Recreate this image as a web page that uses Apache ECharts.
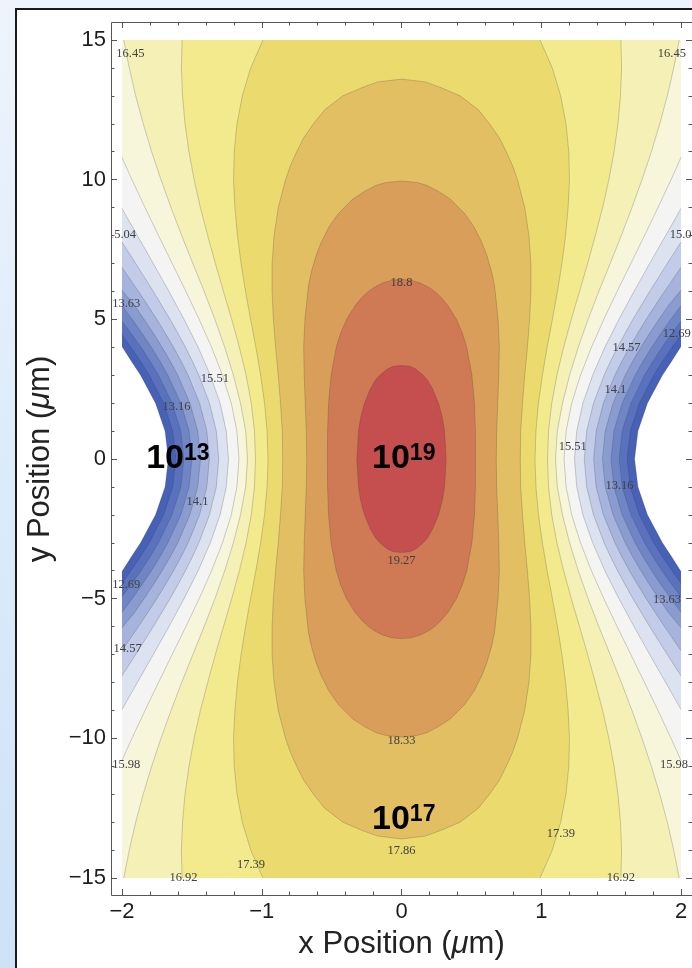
<!DOCTYPE html>
<html><head><meta charset="utf-8">
<script src="https://cdn.jsdelivr.net/npm/echarts@6/dist/echarts.min.js"></script>
<style>
html,body{margin:0;padding:0;width:692px;height:968px;overflow:hidden;}
body{background:linear-gradient(to bottom,#edf4fc 0%,#dcebf9 50%,#cde2f6 100%);}
#panel{position:absolute;left:15px;top:8px;width:720px;height:1000px;background:#fff;border:2px solid #1a1a1a;box-sizing:border-box;}
#chart{position:absolute;left:0;top:0;width:692px;height:968px;}
</style></head><body><div id="panel"></div><div id="chart"></div>
<script>
// ---- data ----
const xTicks = [-2, -1, 0, 1, 2];
const xTickLabels = ['\u22122', '\u22121', '0', '1', '2'];
const yTicks = [-15, -10, -5, 0, 5, 10, 15];
const yTickLabels = ['\u221215', '\u221210', '\u22125', '0', '5', '10', '15'];

// contour levels (log10 density) and the fill colour of the band above each level
const levels = [12.22, 12.69, 13.16, 13.63, 14.10, 14.57, 15.04, 15.51, 15.98, 16.45, 16.92, 17.39, 17.86, 18.33, 18.80, 19.27];
const bandColors = ['#4661b5', '#5a72bd', '#7085c6', '#8a9bd0', '#a6b3dc', '#c2cbe7', '#dde2f1', '#f4f4f3',
                    '#f7f5da', '#f5f0b6', '#f2ea8c', '#ebdb6f', '#e2bf62', '#d99f5a', '#d07a55', '#c54e4e'];

// contour lines, upper-right quadrant [x (um), y (um)], from top down to y = 0
const c1222 = [[2,4.03],[1.933,3.5],[1.867,3],[1.76,2],[1.692,1],[1.668,0]];
const c1269 = [[2,4.45],[1.936,4],[1.867,3.5],[1.805,3],[1.702,2],[1.637,1],[1.614,0]];
const c1316 = [[2,4.93],[1.935,4.5],[1.864,4],[1.799,3.5],[1.739,3],[1.642,2],[1.579,1],[1.558,0]];
const c1363 = [[2,5.49],[1.927,5],[1.857,4.5],[1.790,4],[1.728,3.5],[1.672,3],[1.579,2],[1.520,1],[1.499,0]];
const c1410 = [[2,6.04],[1.911,5.5],[1.842,5],[1.775,4.5],[1.713,4],[1.654,3.5],[1.601,3],[1.514,2],[1.458,1],[1.438,0]];
const c1457 = [[2,6.86],[1.951,6.5],[1.882,6],[1.816,5.5],[1.751,5],[1.690,4.5],[1.631,4],[1.577,3.5],[1.527,3],[1.445,2],[1.393,1],[1.375,0]];
const c1504 = [[2,7.76],[1.966,7.5],[1.902,7],[1.839,6.5],[1.776,6],[1.716,5.5],[1.656,5],[1.600,4.5],[1.546,4],[1.496,3.5],[1.450,3],[1.374,2],[1.325,1],[1.308,0]];
const c1551 = [[2,8.97],[1.947,8.5],[1.890,8],[1.833,7.5],[1.776,7],[1.664,6],[1.556,5],[1.455,4],[1.368,3],[1.298,2],[1.254,1],[1.238,0]];
const c1598 = [[2,10.8],[1.974,10.5],[1.929,10],[1.835,9],[1.739,8],[1.641,7],[1.543,6],[1.448,5],[1.359,4],[1.281,3],[1.218,2],[1.178,1],[1.163,0]];
const c1645 = [[1.987,15],[1.948,14],[1.902,13],[1.848,12],[1.788,11],[1.721,10],[1.649,9],[1.573,8],[1.493,7],[1.412,6],[1.335,5],[1.265,4],[1.203,3],[1.152,2],[1.115,1],[1.102,0]];
const c1692 = [[1.570,15],[1.575,14],[1.567,13],[1.549,12],[1.521,11],[1.484,10],[1.439,9],[1.387,8],[1.332,7],[1.274,6],[1.215,5],[1.160,4],[1.112,3],[1.075,2],[1.052,1],[1.045,0]];
const c1739 = [[0.991,15],[1.079,14],[1.139,13],[1.177,12],[1.197,11],[1.202,10],[1.192,9],[1.174,8],[1.148,7],[1.116,6],[1.080,5],[1.042,4],[1.008,3],[0.980,2],[0.962,1],[0.955,0]];
const c1786 = [[0,13.6],[0.17,13.5],[0.28,13.3],[0.42,13],[0.55,12.5],[0.63,12],[0.70,11.5],[0.75,11],[0.795,10.5],[0.83,10],[0.882,9],[0.912,8],[0.926,7],[0.926,6],[0.917,5],[0.901,4],[0.882,3],[0.866,2],[0.853,1],[0.850,0]];
const c1833 = [[0,9.95],[0.11,9.9],[0.18,9.8],[0.265,9.58],[0.35,9.3],[0.453,8.78],[0.52,8.3],[0.575,7.75],[0.61,7.3],[0.645,6.7],[0.666,6.2],[0.691,5],[0.700,4],[0.696,3],[0.689,2],[0.681,1],[0.678,0]];
const c1880 = [[0,6.43],[0.069,6.4],[0.135,6.3],[0.194,6.15],[0.237,6],[0.28,5.8],[0.331,5.5],[0.393,5],[0.436,4.5],[0.467,4],[0.504,3],[0.522,2],[0.529,1],[0.530,0]];
const c1927 = [[0,3.35],[0.06,3.32],[0.102,3.22],[0.152,3.02],[0.187,2.82],[0.224,2.5],[0.265,2],[0.292,1.5],[0.308,1],[0.32,0]];

// contour labels [text, x, y]
const contourLabels = [
  ['16.45', -1.94, 14.5], ['15.04', -2.0, 8.02], ['13.63', -1.97, 5.55], ['15.51', -1.335, 2.88],
  ['13.16', -1.61, 1.86], ['14.1', -1.46, -1.54], ['12.69', -1.97, -4.51], ['14.57', -1.96, -6.8],
  ['15.98', -1.97, -10.96], ['16.92', -1.56, -15.0], ['17.39', -1.077, -14.54],
  ['18.8', 0, 6.31], ['19.27', 0, -3.65], ['18.33', 0, -10.08], ['17.86', 0, -14.04],
  ['16.45', 1.935, 14.52], ['15.04', 2.02, 8.02], ['12.69', 1.97, 4.5], ['14.57', 1.61, 4.0],
  ['14.1', 1.53, 2.47], ['15.51', 1.225, 0.44], ['13.16', 1.56, -0.97], ['13.63', 1.90, -5.05],
  ['15.98', 1.95, -10.96], ['17.39', 1.14, -13.43], ['16.92', 1.57, -15.0]
];
// big annotations [base, exponent, x, y]
const bigLabels = [['10', '13', -1.60, 0], ['10', '19', 0.016, 0], ['10', '17', 0.016, -12.92]];

// ---- drawing ----
const contours = [c1222, c1269, c1316, c1363, c1410, c1457, c1504, c1551, c1598, c1645, c1692, c1739, c1786, c1833, c1880, c1927];
const pad = {left: 11, right: 11, top: 18, bottom: 17};   // frame padding around the data area (px)
const XMAX = 2, YMAX = 15;

function mirrorY(q) { return q.concat(q.slice(0, -1).reverse().map(p => [p[0], -p[1]])); }
function mirrorX(a) { return a.map(p => [-p[0], p[1]]); }
function outline(q) {
  let r = q.slice();
  if (r[0][0] >= XMAX && r[0][1] < YMAX) r = [[XMAX, YMAX]].concat(r);
  const right = mirrorY(r);
  return right.concat(mirrorX(right).reverse());
}
function frameRect(cs) {
  const x = Math.round(cs.x - pad.left) + 0.5, y = Math.round(cs.y - pad.top) + 0.5;
  return {x: x, y: y, width: Math.round(cs.width + pad.left + pad.right), height: Math.round(cs.height + pad.top + pad.bottom)};
}

const lineStroke = 'rgba(60,60,60,0.3)';
function renderBand(params, api) {
  const i = params.dataIndex;
  const q = contours[i];
  const px = pts => pts.map(p => api.coord(p));
  const br = mirrorY(q);
  return {
    type: 'group',
    children: [
      {type: 'polygon', shape: {points: px(outline(q))}, style: {fill: bandColors[i]}},
      {type: 'polyline', shape: {points: px(br)}, style: {fill: null, stroke: lineStroke, lineWidth: 0.8}},
      {type: 'polyline', shape: {points: px(mirrorX(br))}, style: {fill: null, stroke: lineStroke, lineWidth: 0.8}}
    ]
  };
}
function renderContourLabel(params, api) {
  const d = contourLabels[params.dataIndex];
  const p = api.coord([d[1], d[2]]);
  const fr = frameRect(params.coordSys);
  return {
    type: 'group',
    clipPath: {type: 'rect', shape: {x: fr.x + 0.5, y: fr.y, width: fr.width, height: fr.height}},
    children: [{
      type: 'text', x: p[0], y: p[1],
      style: {text: d[0], fill: '#404040', fontSize: 12.5, fontFamily: 'Liberation Serif', align: 'center', verticalAlign: 'middle'}
    }]
  };
}
function renderBigLabel(params, api) {
  const d = bigLabels[params.dataIndex];
  const p = api.coord([d[2], d[3]]);
  return {
    type: 'text', x: p[0], y: p[1],
    style: {
      text: d[0] + '{s|' + d[1] + '}', fill: '#000', fontSize: 34, fontWeight: 'bold', fontFamily: 'Liberation Sans',
      align: 'center', verticalAlign: 'middle',
      rich: {s: {fontSize: 23, fontWeight: 'bold', fontFamily: 'Liberation Sans', fill: '#000', verticalAlign: 'top', lineHeight: 34}}
    }
  };
}
function renderFrame(params, api) {
  return {type: 'rect', shape: frameRect(params.coordSys), style: {fill: null, stroke: '#555', lineWidth: 1}};
}

const tickColor = '#555';
const labelStyle = {color: '#1e1e1e', fontSize: 22, fontFamily: 'Liberation Sans'};
const nameStyle = {
  color: '#222', fontSize: 31, fontFamily: 'Liberation Sans',
  rich: {mu: {fontStyle: 'italic', fontSize: 31, fontFamily: 'Liberation Sans', color: '#222'}}
};
function xFmt(v) { const k = xTicks.indexOf(Math.round(v * 1000) / 1000); return k >= 0 ? xTickLabels[k] : ''; }
function yFmt(v) { const k = yTicks.indexOf(Math.round(v * 1000) / 1000); return k >= 0 ? yTickLabels[k] : ''; }

function xAxisCfg(pos, off, showLabel) {
  return {
    type: 'value', position: pos, offset: off, min: -2, max: 2, interval: 1, gridIndex: 0,
    axisLine: {show: false, onZero: false},
    axisTick: {show: true, inside: true, length: 6, lineStyle: {color: tickColor, width: 1}},
    minorTick: {show: true, splitNumber: 5, length: 3.5, lineStyle: {color: tickColor, width: 1}},
    splitLine: {show: false}, minorSplitLine: {show: false},
    axisLabel: Object.assign({show: showLabel, margin: 6, formatter: xFmt, showMinLabel: true, showMaxLabel: true}, labelStyle),
    name: showLabel ? 'x Position ({mu|\u03bc}m)' : '', nameLocation: 'middle', nameGap: 34, nameTextStyle: nameStyle
  };
}
function yAxisCfg(pos, off, showLabel) {
  return {
    type: 'value', position: pos, offset: off, min: -15, max: 15, interval: 5, gridIndex: 0,
    axisLine: {show: false, onZero: false},
    axisTick: {show: true, inside: true, length: 6, lineStyle: {color: tickColor, width: 1}},
    minorTick: {show: true, splitNumber: 5, length: 3.5, lineStyle: {color: tickColor, width: 1}},
    splitLine: {show: false}, minorSplitLine: {show: false},
    axisLabel: Object.assign({show: showLabel, margin: 5, formatter: yFmt, showMinLabel: true, showMaxLabel: true}, labelStyle),
    name: showLabel ? 'y Position ({mu|\u03bc}m)' : '', nameLocation: 'middle', nameGap: 55, nameRotate: 90, nameTextStyle: nameStyle
  };
}

const chart = echarts.init(document.getElementById('chart'), null, {renderer: 'canvas', width: 692, height: 968});
chart.setOption({
  backgroundColor: 'transparent',
  animation: false,
  grid: {left: 122, top: 40, width: 559, height: 838, containLabel: false, outerBoundsMode: 'none'},
  xAxis: [xAxisCfg('bottom', pad.bottom, true), xAxisCfg('top', pad.top, false)],
  yAxis: [yAxisCfg('left', pad.left, true), yAxisCfg('right', pad.right, false)],
  series: [
    {type: 'custom', name: 'bands', coordinateSystem: 'cartesian2d', xAxisIndex: 0, yAxisIndex: 0,
     data: levels.map(() => [0, 0]), renderItem: renderBand, silent: true, clip: false, z: 1},
    {type: 'custom', name: 'frame', coordinateSystem: 'cartesian2d', xAxisIndex: 0, yAxisIndex: 0,
     data: [[0, 0]], renderItem: renderFrame, silent: true, clip: false, z: 2},
    {type: 'custom', name: 'contourLabels', coordinateSystem: 'cartesian2d', xAxisIndex: 0, yAxisIndex: 0,
     data: contourLabels.map(d => [d[1], d[2]]), renderItem: renderContourLabel, silent: true, clip: false, z: 3},
    {type: 'custom', name: 'bigLabels', coordinateSystem: 'cartesian2d', xAxisIndex: 0, yAxisIndex: 0,
     data: bigLabels.map(d => [d[2], d[3]]), renderItem: renderBigLabel, silent: true, clip: false, z: 4}
  ]
});
</script></body></html>
